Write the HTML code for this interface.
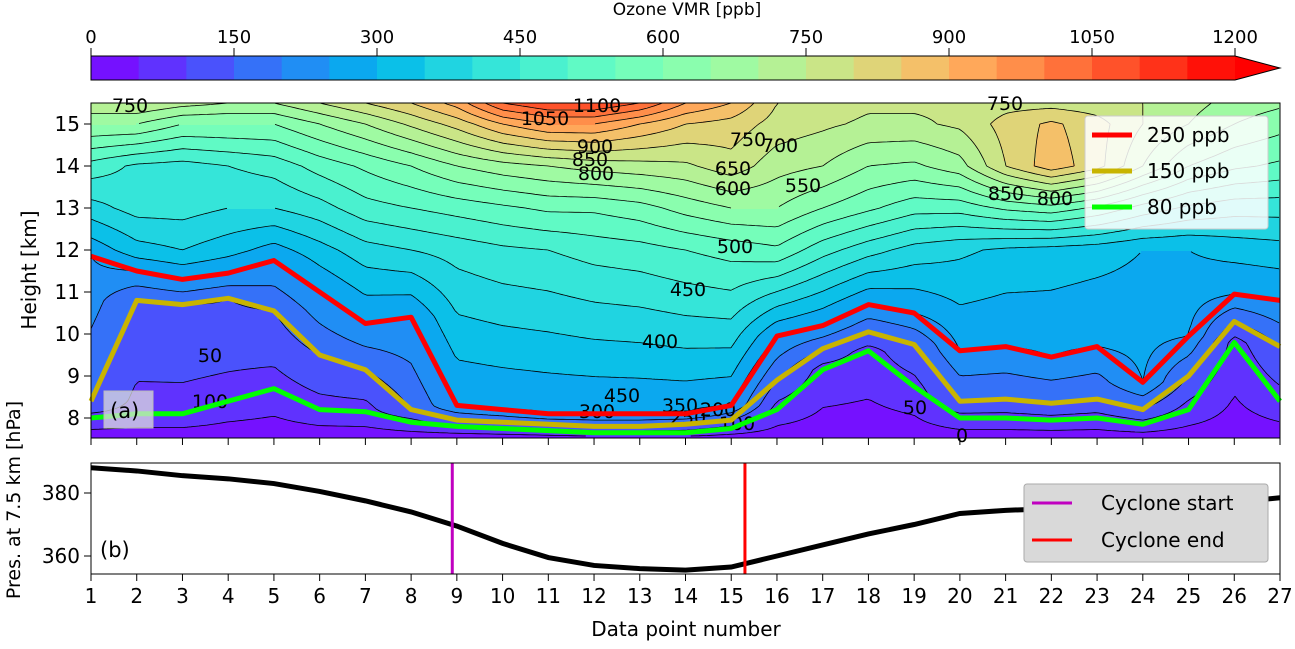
<!DOCTYPE html>
<html><head><meta charset="utf-8"><style>
body{margin:0;background:#fff;font-family:"Liberation Sans","DejaVu Sans",sans-serif}
svg text{font-family:"DejaVu Sans","Liberation Sans",sans-serif}
</style></head><body>
<svg id="chart" width="1295" height="644" viewBox="0 0 1295 644" xmlns="http://www.w3.org/2000/svg">
<g id="cbar"></g>
<g id="pa"></g>
<g id="pb"></g>
</svg>
<script>
// ---- data ----
const points = [1,2,3,4,5,6,7,8,9,10,11,12,13,14,15,16,17,18,19,20,21,22,23,24,25,26,27];
const h250 = [11.85,11.5,11.3,11.45,11.75,11.0,10.25,10.4,8.3,8.2,8.1,8.1,8.1,8.1,8.3,9.95,10.2,10.7,10.5,9.6,9.7,9.45,9.7,8.85,9.95,10.95,10.8];
const h150 = [8.4,10.8,10.7,10.85,10.55,9.5,9.15,8.2,7.95,7.9,7.85,7.8,7.8,7.85,7.95,8.9,9.65,10.05,9.75,8.4,8.45,8.35,8.45,8.2,9.0,10.3,9.7];
const h80 = [8.0,8.1,8.1,8.4,8.7,8.2,8.15,7.9,7.8,7.75,7.7,7.65,7.65,7.65,7.75,8.2,9.15,9.6,8.75,8.0,8.0,7.95,8.0,7.85,8.2,9.8,8.4];
const upperHeights = [12,13,14,15,15.5];
const o3At12 = [280,330,350,320,290,330,380,400,420,440,450,470,480,500,520,540,470,420,380,360,340,330,320,300,300,320,330];
const o3At13 = [380,420,420,400,400,430,480,500,520,540,560,560,580,620,650,650,600,560,520,520,560,580,540,480,440,420,420];
const o3At14 = [480,440,430,450,470,520,560,600,650,680,700,720,730,740,780,720,700,650,640,680,800,880,820,700,600,560,540];
const o3At15 = [650,650,600,600,600,650,700,760,820,900,950,950,900,850,830,780,760,740,740,760,820,860,820,750,700,650,620];
const o3At155 = [750,750,720,700,700,750,800,850,920,1050,1100,1100,1050,950,900,800,780,760,760,760,780,780,770,750,720,680,660];
const pressure = [388,387,385.5,384.5,383,380.5,377.5,374,369.5,364,359.5,357,356,355.5,356.5,360,363.5,367,370,373.5,374.5,375,375.5,376,376.5,377,378.5];
const cycloneStart = 8.9, cycloneEnd = 15.3;
const cbTicks = [0,150,300,450,600,750,900,1050,1200];
const yTicksA = [8,9,10,11,12,13,14,15];
const yTicksB = [360,380];

// ---- scales ----
const X0=91, X1=1280;
const sx = p => X0 + (p-1)*(X1-X0)/26;
const syA = h => 418 - (h-8)*42;
const syB = p => 556 - (p-360)*3.15;
const NS='http://www.w3.org/2000/svg';
function mk(tag, attrs, parent, text){const e=document.createElementNS(NS,tag);for(const k in attrs)e.setAttribute(k,attrs[k]);if(text!==undefined)e.textContent=text;parent.appendChild(e);return e;}
function rainbow(x){const r=Math.min(1,Math.abs(2*x-0.5)),g=Math.sin(Math.PI*x),b=Math.cos(Math.PI*x/2);return `rgb(${Math.round(r*255)},${Math.round(g*255)},${Math.round(b*255)})`;}
const NL=24, levColor = i => rainbow(Math.min(1,(i+0.5)/NL));

// ---- colorbar ----
const cb=document.getElementById('cbar');
const CB0=91, CB1=1235, cbw=(CB1-CB0)/NL;
for(let i=0;i<NL;i++){const r=mk('rect',{x:CB0+i*cbw,y:56,width:cbw+0.6,height:24,fill:levColor(i)},cb);
}
mk('polygon',{points:`${CB1},56 1280,68 ${CB1},80`,fill:'rgb(255,0,0)'},cb);
mk('polygon',{points:`${CB0},56 ${CB1},56 1280,68 ${CB1},80 ${CB0},80`,fill:'none',stroke:'#000','stroke-width':1},cb);
cbTicks.forEach(t=>{const x=CB0+t/1200*(CB1-CB0);mk('line',{x1:x,y1:56,x2:x,y2:48,stroke:'#000'},cb);
const tx=mk('text',{x:x,y:43,'font-size':18,'text-anchor':'middle'},cb,String(t));});
mk('text',{x:687,y:15,'font-size':17,'text-anchor':'middle',},cb,'Ozone VMR [ppb]');

// ---- field ----
function profile(c,h){
  const a=[[7.0,15],[7.5,25],[h80[c],80],[h150[c],150],[h250[c],250]];
  const up=[o3At12[c],o3At13[c],o3At14[c],o3At15[c],o3At155[c]];
  upperHeights.forEach((uh,k)=>{if(uh>h250[c]+0.25)a.push([uh,up[k]]);});
  a.push([16,up[4]+50]);
  for(let k=0;k<a.length-1;k++){if(h<=a[k+1][0]){const t=(h-a[k][0])/(a[k+1][0]-a[k][0]);return a[k][1]+t*(a[k+1][1]-a[k][1]);}}
  return a[a.length-1][1];
}
function field(p,h){const t=p-1;let c=Math.floor(t);if(c>=26)c=25;if(c<0)c=0;const f=t-c;return profile(c,h)*(1-f)+profile(c+1,h)*f;}
const pa=document.getElementById('pa');
const AT=103, AB=438;
mk('clipPath',{id:'clipA'},pa);document.getElementById('clipA').appendChild((()=>{const r=document.createElementNS(NS,'rect');r.setAttribute('x',X0);r.setAttribute('y',AT);r.setAttribute('width',X1-X0);r.setAttribute('height',AB-AT);return r;})());
const fillG=mk('g',{'clip-path':'url(#clipA)'},pa);
const DX=3, DY=2;
for(let x=X0;x<X1;x+=DX){
  const p=1+(x+DX/2-X0)/((X1-X0)/26);
  let runStart=AT, runLev=-1;
  let y;
  for(y=AT;y<AB;y+=DY){
    const h=8+(418-(y+DY/2))/42;
    const lev=Math.min(NL-1,Math.max(0,Math.floor(field(p,h)/50)));
    if(lev!==runLev){
      if(runLev>=0){const r=mk('rect',{x:x,y:runStart,width:DX+0.5,height:y-runStart+0.5,fill:levColor(runLev)},fillG);
        }
      runStart=y;runLev=lev;}
  }
  if(runLev>=0){const r=mk('rect',{x:x,y:runStart,width:DX+0.5,height:AB-runStart+2,fill:levColor(runLev)},fillG);
    }
}
// contour lines via marching squares
const GX=4, GY=3; const gxs=[],gys=[];
for(let x=X0;x<=X1+0.1;x+=GX)gxs.push(x);
for(let y=AT;y<=AB+0.1;y+=GY)gys.push(y);
const V=gys.map(y=>gxs.map(x=>field(1+(x-X0)/((X1-X0)/26),8+(418-y)/42)));
for(let L=50;L<=1150;L+=50){
  let d='';
  for(let j=0;j<gys.length-1;j++)for(let i=0;i<gxs.length-1;i++){
    const c=[[gxs[i],gys[j],V[j][i]],[gxs[i+1],gys[j],V[j][i+1]],[gxs[i+1],gys[j+1],V[j+1][i+1]],[gxs[i],gys[j+1],V[j+1][i]]];
    const pts=[];
    for(let e=0;e<4;e++){const A=c[e],B=c[(e+1)%4];if((A[2]-L)*(B[2]-L)<0){const t=(L-A[2])/(B[2]-A[2]);pts.push([A[0]+t*(B[0]-A[0]),A[1]+t*(B[1]-A[1])]);}}
    if(pts.length>=2)d+=`M${pts[0][0].toFixed(1)},${pts[0][1].toFixed(1)}L${pts[1][0].toFixed(1)},${pts[1][1].toFixed(1)}`;
    if(pts.length===4)d+=`M${pts[2][0].toFixed(1)},${pts[2][1].toFixed(1)}L${pts[3][0].toFixed(1)},${pts[3][1].toFixed(1)}`;
  }
  const pl=mk('path',{d:d,stroke:'#000','stroke-width':0.8,fill:'none'},fillG);
  
}
// contour labels
[['750',130,112],['1050',545,125],['1100',597,112],['900',595,153],['850',590,166],['800',596,180],['750',748,146],['700',780,152],['650',733,175],['600',733,195],['550',803,192],['500',735,253],['450',688,296],['400',660,348],['450',622,402],['300',597,418],['350',680,412],['250',688,424],['200',718,416],['100',737,430],['50',915,414],['0',962,442],['850',1006,200],['800',1055,205],['750',1005,110],['50',210,362],['100',210,408]].forEach(l=>{
  const t=mk('text',{x:l[1],y:l[2],'font-size':19,'text-anchor':'middle'},pa,l[0]);});
// tropopause lines
[[h250,'#ff0000','line-250ppb'],[h150,'#c8b400','line-150ppb'],[h80,'#00ff00','line-80ppb']].forEach(s=>{
  const pl=mk('polyline',{points:points.map((p,i)=>`${sx(p)},${syA(s[0][i])}`).join(' '),fill:'none',stroke:s[1],'stroke-width':5,'stroke-linejoin':'round'},pa);
  });
mk('rect',{x:X0,y:AT,width:X1-X0,height:AB-AT,fill:'none',stroke:'#000','stroke-width':1},pa);
yTicksA.forEach(h=>{const y=syA(h);mk('line',{x1:X0,y1:y,x2:X0-7,y2:y,stroke:'#000'},pa);
  const t=mk('text',{x:X0-11,y:y+7,'font-size':20,'text-anchor':'end'},pa,String(h));});
points.forEach(p=>mk('line',{x1:sx(p),y1:AB,x2:sx(p),y2:AB+7,stroke:'#000'},pa));
mk('text',{x:0,y:0,transform:'translate(36,270) rotate(-90)','font-size':20,'text-anchor':'middle',},pa,'Height [km]');
mk('rect',{x:104,y:391,width:49,height:37,fill:'#ddd','fill-opacity':0.75,stroke:'#bbb',},pa);
mk('text',{x:110,y:418,'font-size':21,},pa,'(a)');
// legend a
const lg=mk('g',{},pa);
mk('rect',{x:1085,y:116,width:183,height:113,fill:'#fff','fill-opacity':0.85,stroke:'#ccc',rx:3},lg);
[['250 ppb','#ff0000',135],['150 ppb','#c8b400',171],['80 ppb','#00ff00',207]].forEach(e=>{
  const g=mk('g',{},lg);
  mk('line',{x1:1092,y1:e[2],x2:1132,y2:e[2],stroke:e[1],'stroke-width':5},g);
  mk('text',{x:1147,y:e[2]+7,'font-size':20},g,e[0]);});

// ---- panel b ----
const pb=document.getElementById('pb');
const BT=463, BB=574;
const pl=mk('polyline',{points:points.map((p,i)=>`${sx(p)},${syB(pressure[i])}`).join(' '),fill:'none',stroke:'#000','stroke-width':5},pb);

mk('line',{x1:sx(cycloneStart),y1:BT,x2:sx(cycloneStart),y2:BB,stroke:'#c000c0','stroke-width':3,},pb);
mk('line',{x1:sx(cycloneEnd),y1:BT,x2:sx(cycloneEnd),y2:BB,stroke:'#ff0000','stroke-width':3,},pb);
mk('rect',{x:X0,y:BT,width:X1-X0,height:BB-BT,fill:'none',stroke:'#000','stroke-width':1},pb);
yTicksB.forEach(v=>{const y=syB(v);mk('line',{x1:X0,y1:y,x2:X0-7,y2:y,stroke:'#000'},pb);
  const t=mk('text',{x:X0-11,y:y+7,'font-size':20,'text-anchor':'end'},pb,String(v));});
points.forEach(p=>{mk('line',{x1:sx(p),y1:BB,x2:sx(p),y2:BB+7,stroke:'#000'},pb);
  const t=mk('text',{x:sx(p),y:BB+29,'font-size':20,'text-anchor':'middle'},pb,String(p));});
mk('text',{x:686,y:636,'font-size':20,'text-anchor':'middle',},pb,'Data point number');
mk('text',{x:0,y:0,transform:'translate(20,500) rotate(-90)','font-size':19,'text-anchor':'middle',},pb,'Pres. at 7.5 km [hPa]');
mk('text',{x:100,y:557,'font-size':21,},pb,'(b)');
const lb=mk('g',{},pb);
mk('rect',{x:1024,y:484,width:244,height:78,fill:'#d9d9d9',stroke:'#aaa',rx:3},lb);
[['Cyclone start','#c000c0',503],['Cyclone end','#ff0000',540]].forEach(e=>{
  const g=mk('g',{},lb);
  mk('line',{x1:1032,y1:e[2],x2:1072,y2:e[2],stroke:e[1],'stroke-width':3},g);
  mk('text',{x:1101,y:e[2]+7,'font-size':20},g,e[0]);});
</script>
</body></html>
